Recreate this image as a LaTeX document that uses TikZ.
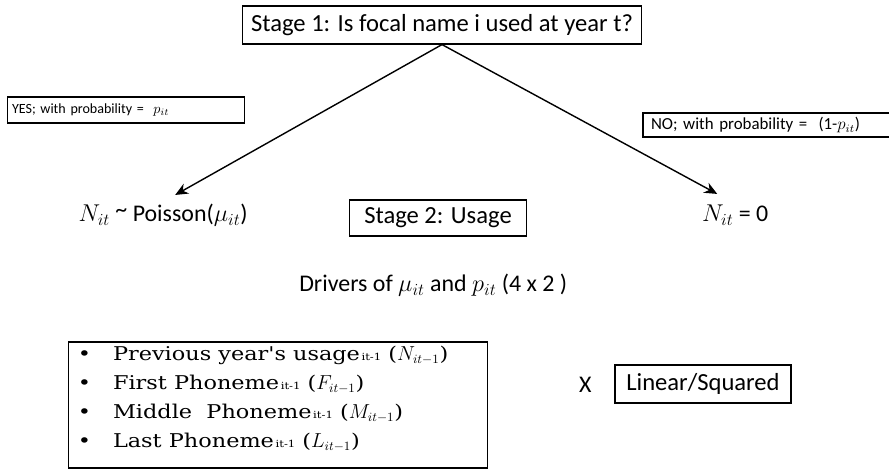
\documentclass[tikz,border=0pt]{standalone}
\usepackage{fontspec}
\setmainfont{Carlito}
\newfontfamily\bulletfont[FakeStretch=1.18]{DejaVu Serif}
\usetikzlibrary{positioning,arrows.meta}

\begin{document}
\begin{tikzpicture}[
    stagebox/.style={draw, thick, inner sep=0pt, font=\fontsize{17.5}{20}\selectfont},
    probbox/.style={draw, thick, inner sep=0pt, align=left},
    plain/.style={font=\fontsize{17}{20}\selectfont},
    branch/.style={-{Stealth[length=3.2mm, width=2.8mm]}, line width=1pt},
  ]
    \useasboundingbox (0,0) rectangle (22.225,-11.825);

    % Stage 1
    \node[stagebox, minimum width=9.975cm, minimum height=0.95cm] (stage1) at (11.05,-0.625)
      {Stage 1: Is focal name i used at year t?};

    % 確率の箱
    \node[probbox, minimum width=5.925cm, minimum height=0.65cm, text width=5.7cm,
          font=\fontsize{10}{12}\selectfont] (yes) at (3.15,-2.75)
      {YES; with probability = \ $p_{it}$};
    \node[probbox, minimum width=6.5cm, minimum height=0.6cm, text width=6.1cm,
          font=\fontsize{12}{14}\selectfont] (no) at (19.325,-3.125)
      {NO; with probability = \ (1-$p_{it}$)};

    % 結果
    \node[plain] (pois) at (4.08,-5.375) {$N_{it}$ \raisebox{0.3ex}{\textasciitilde} Poisson($\mu_{it}$)};
    \node[stagebox, minimum width=4.43cm, minimum height=0.9cm] (stage2) at (10.95,-5.45) {Stage 2: Usage};
    \node[plain] (zero) at (18.38,-5.375) {$N_{it}$ = 0};

    % 矢印
    \draw[branch] (stage1.south) -- ([xshift=0.3cm, yshift=0.1cm]pois.north);
    \draw[branch] (stage1.south) -- ([xshift=-0.45cm, yshift=0.15cm]zero.north);

    % Drivers
    \node[plain] (drivers) at (10.83,-7.125) {Drivers of $\mu_{it}$ and $p_{it}$ (4 x 2 )};

    % 説明変数
    \node[draw, thick, minimum width=10.475cm, minimum height=3.15cm, inner sep=0pt] (vars) at (6.94,-10.125) {};
    \node[anchor=north west, align=left, inner sep=0pt,
          font=\bulletfont\fontsize{13.5}{20.5}\selectfont] (list) at ([xshift=0.25cm, yshift=-0.12cm]vars.north west)
      {\textbullet\hspace{0.55cm}Previous year's usage{\scriptsize\,it-1} ($N_{it-1}$)\\
       \textbullet\hspace{0.55cm}First Phoneme{\scriptsize\,it-1} ($F_{it-1}$)\\
       \textbullet\hspace{0.55cm}Middle\ \ Phoneme{\scriptsize\,it-1} ($M_{it-1}$)\\
       \textbullet\hspace{0.55cm}Last Phoneme{\scriptsize\,it-1} ($L_{it-1}$)};

    \node[plain] (times) at (14.63,-9.625) {X};
    \node[stagebox, minimum width=4.4cm, minimum height=0.95cm] (shape) at (17.575,-9.6) {Linear/Squared};
  \end{tikzpicture}
\end{document}
